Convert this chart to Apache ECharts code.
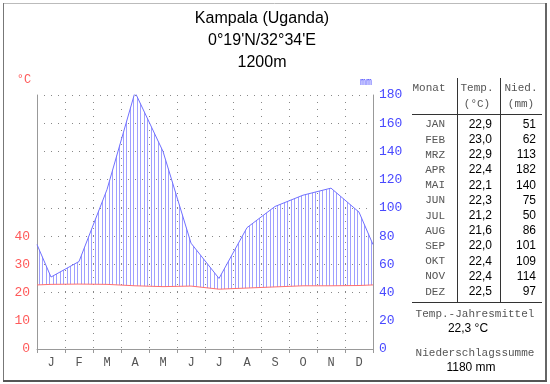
<!DOCTYPE html>
<html><head><meta charset="utf-8">
<script src="https://cdn.jsdelivr.net/npm/echarts@6/dist/echarts.min.js"></script>
<style>html,body{margin:0;padding:0;background:#fff}#c{width:550px;height:384px}</style>
</head><body><div id="c"></div>
<script>
// ---- data ----
const monthLetters = ['J','F','M','A','M','J','J','A','S','O','N','D'];
const monthNames = ['JAN','FEB','MRZ','APR','MAI','JUN','JUL','AUG','SEP','OKT','NOV','DEZ'];
const temperature = [22.9,23.0,22.9,22.4,22.1,22.3,21.2,21.6,22.0,22.4,22.4,22.5];
const precipitation = [51,62,113,182,140,75,50,86,101,109,114,97];
const edgeTemperature = 22.7;   // curve value at the year boundary (chart edges)
const edgePrecipitation = 74;
const tempTickLabels = [0,10,20,30,40];
const precipTickLabels = [0,20,40,60,80,100,120,140,160,180];
const titleLines = ['Kampala (Uganda)', "0°19'N/32°34'E", '1200m'];

// ---- build series ----
const xs = [0].concat(monthNames.map((_, i) => i + 0.5), [12]);
const tFull = [edgeTemperature].concat(temperature, [edgeTemperature]);
const pFull = [edgePrecipitation].concat(precipitation, [edgePrecipitation]);
const bandData = xs.map((x, i) => [x, pFull[i], tFull[i] * 2]);
const precipData = xs.map((x, i) => [x, pFull[i]]);
const tempData = xs.map((x, i) => [x, tFull[i]]);

const fmt1 = v => v.toFixed(1).replace('.', ',');
const meanT = temperature.reduce((a, b) => a + b, 0) / temperature.length;
const sumP = precipitation.reduce((a, b) => a + b, 0);

// hatch pattern
const pc = document.createElement('canvas');
pc.width = 7; pc.height = 2;
const pctx = pc.getContext('2d');
pctx.fillStyle = '#a0a0ff';
pctx.fillRect(0, 0, 1, 2);
pctx.fillRect(4, 0, 1, 2);

const MONO = '"Liberation Mono", monospace';
const SANS = '"Liberation Sans", Arial, sans-serif';
const G = [];
function txt(t, x, y, align, font, fill) {
  G.push({type:'text', x:x, y:y, silent:true, style:{text:t, textAlign:align, textVerticalAlign:'middle', font:font, fill:fill}});
}
function ln(x1, y1, x2, y2, color, w) {
  G.push({type:'line', silent:true, shape:{x1:x1, y1:y1, x2:x2, y2:y2}, style:{stroke:color, lineWidth:w}});
}
// border
ln(3, 3.5, 546, 3.5, '#bbb', 1);
ln(3.5, 3, 3.5, 381, '#777', 1);
ln(546, 3, 546, 382, '#666', 2);
ln(3, 381, 547, 381, '#555', 2);
// titles
titleLines.forEach((t, i) => txt(t, 262, 19 + i * 22, 'center', '16px ' + SANS, '#000'));
// unit labels
txt('°C', 24, 80, 'center', '12px ' + MONO, '#ff5a5a');
txt('mm', 366, 82, 'center', '10px ' + MONO, '#5050ff');
// table header
txt('Monat', 429, 88, 'center', '11px ' + MONO, '#555');
txt('Temp.', 477, 88, 'center', '11px ' + MONO, '#555');
txt('(°C)', 477, 104, 'center', '11px ' + MONO, '#555');
txt('Nied.', 521, 88, 'center', '11px ' + MONO, '#555');
txt('(mm)', 521, 104, 'center', '11px ' + MONO, '#555');
ln(412, 114.5, 542, 114.5, '#333', 1);
ln(457.5, 78, 457.5, 302, '#333', 1);
ln(500.5, 78, 500.5, 302, '#333', 1);
ln(412, 302.5, 542, 302.5, '#333', 1);
monthNames.forEach((m, i) => {
  const y = 124.5 + i * 15.2;
  txt(m, 445, y, 'right', '11px ' + MONO, '#555');
  txt(fmt1(temperature[i]), 492, y, 'right', '12px ' + SANS, '#000');
  txt(String(precipitation[i]), 536, y, 'right', '12px ' + SANS, '#000');
});
txt('Temp.-Jahresmittel', 475, 314, 'center', '11px ' + MONO, '#555');
txt(fmt1(meanT) + ' °C', 468, 329, 'center', '12px ' + SANS, '#000');
txt('Niederschlagssumme', 475, 353, 'center', '11px ' + MONO, '#555');
txt(sumP + ' mm', 471, 368, 'center', '12px ' + SANS, '#000');

function renderBand(params, api) {
  if (params.dataIndex !== 0) return null;
  const upper = bandData.map(d => api.coord([d[0], d[1]]));
  const lower = bandData.map(d => api.coord([d[0], d[2]])).reverse();
  return {type:'polygon', silent:true, shape:{points: upper.concat(lower)},
          style:{fill:{image:pc, repeat:'repeat'}, stroke:null}};
}

const chart = echarts.init(document.getElementById('c'), null, {renderer:'canvas'});
chart.setOption({
  animation: false,
  backgroundColor: '#fff',
  grid: {left:37, right:177, top:95, bottom:35},
  xAxis: [
    {type:'category', data:monthLetters, boundaryGap:true, position:'bottom',
     axisLine:{show:true, lineStyle:{color:'#999', width:1}},
     axisTick:{show:true, length:4, lineStyle:{color:'#999'}},
     axisLabel:{color:'#555', fontFamily:MONO, fontSize:12, margin:8},
     splitLine:{show:true, showMinLine:false, showMaxLine:false, lineStyle:{color:'#888', type:[1,6]}}},
    {type:'value', min:0, max:12, show:false}
  ],
  yAxis: [
    {type:'value', min:0, max:90, interval:10, position:'left',
     axisLine:{show:true, lineStyle:{color:'#999'}}, axisTick:{show:false}, splitLine:{show:false},
     axisLabel:{color:'#ff5a5a', fontFamily:MONO, fontSize:13, margin:7,
       formatter: v => tempTickLabels.indexOf(v) >= 0 ? String(v) : ''}},
    {type:'value', min:0, max:180, interval:20, position:'right',
     axisLine:{show:true, lineStyle:{color:'#999'}}, axisTick:{show:false},
     splitLine:{show:true, showMinLine:false, lineStyle:{color:'#888', type:[1,6]}},
     axisLabel:{color:'#4848ff', fontFamily:MONO, fontSize:13, margin:6,
       formatter: v => precipTickLabels.indexOf(v) >= 0 ? String(v) : ''}}
  ],
  series: [
    {type:'custom', xAxisIndex:1, yAxisIndex:1, data:bandData, encode:{x:0, y:[1,2]},
     renderItem: renderBand, silent:true, clip:true},
    {type:'line', xAxisIndex:1, yAxisIndex:1, data:precipData, symbol:'none', silent:true,
     lineStyle:{color:'#7070ff', width:1}},
    {type:'line', xAxisIndex:1, yAxisIndex:0, data:tempData, symbol:'none', silent:true,
     lineStyle:{color:'#ff7070', width:1}}
  ],
  graphic: G
});
</script>
</body></html>
